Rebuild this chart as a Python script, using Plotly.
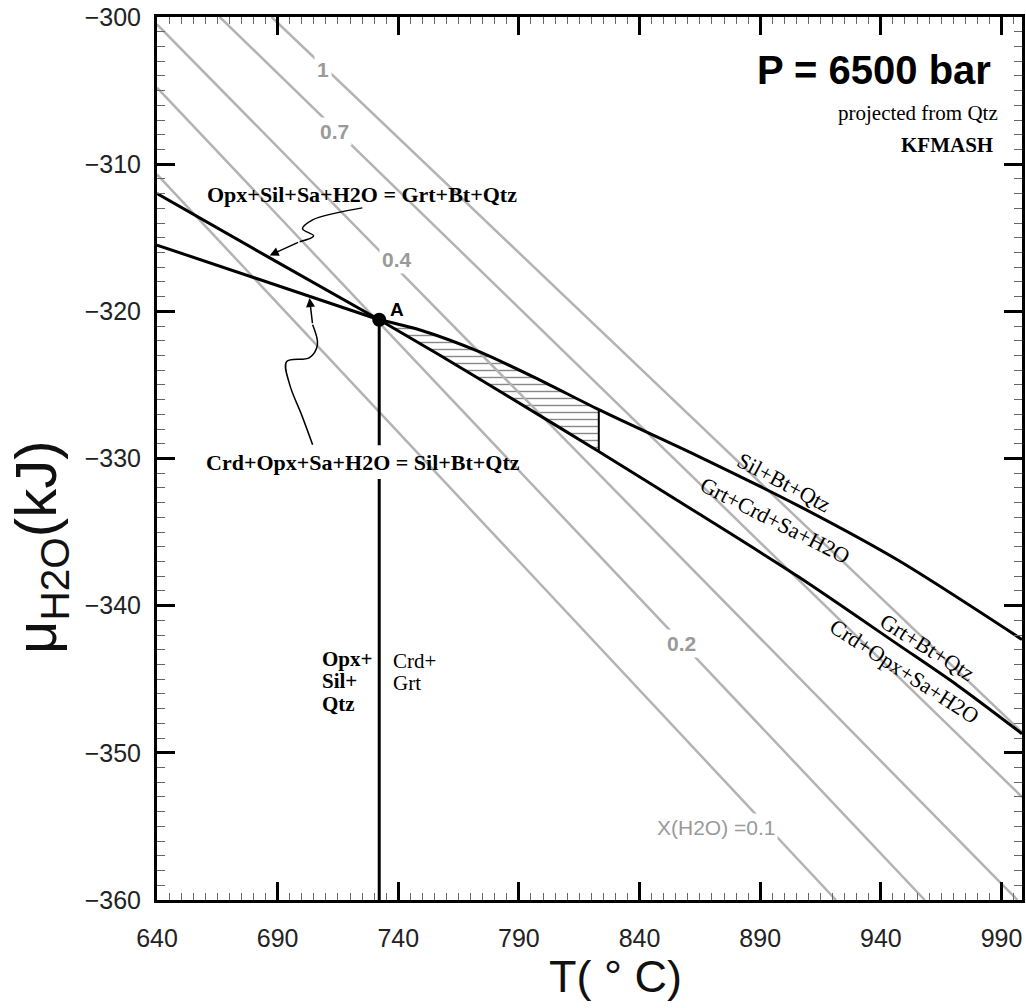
import plotly.graph_objects as go

# ---------------- data ----------------
# X(H2O) isopleths: straight lines between two end points (T in °C, mu in kJ)
iso_names = ["1", "0.7", "0.4", "0.2", "0.1"]
iso_T0 = [687.5, 666.0, 640.0, 640.0, 640.0]
iso_mu0 = [-300.0, -300.0, -300.5, -304.8, -310.7]
iso_T1 = [998.5, 998.5, 996.6, 958.2, 921.4]
iso_mu1 = [-348.6, -353.0, -360.0, -360.0, -360.0]
iso_label_text = ["1", "0.7", "0.4", "0.2", "X(H2O) =0.1"]
iso_label_T = [708.6, 713.6, 739.5, 857.4, 871.6]
iso_label_mu = [-303.6, -307.8, -316.5, -342.6, -355.06]

# invariant point A
A_T = [732.1]
A_mu = [-320.57]

# univariant curves
opx_sil_T = [640.0, 686.0, 732.1]              # Opx+Sil+Sa+H2O = Grt+Bt+Qtz
opx_sil_mu = [-312.0, -316.3, -320.57]
crd_opx_T = [640.0, 732.1]                     # Crd+Opx+Sa+H2O = Sil+Bt+Qtz
crd_opx_mu = [-315.5, -320.57]
sil_bt_T = [732.1, 748.7, 773.5, 798.3, 823.1, 864.4, 905.7, 947.0, 998.5]   # Sil+Bt+Qtz = Grt+Crd+Sa+H2O
sil_bt_mu = [-320.57, -321.25, -322.74, -324.64, -326.68, -329.85, -333.2, -336.9, -342.3]
grt_bt_T = [732.1, 756.9, 781.7, 823.1, 864.4, 905.7, 947.0, 971.8, 998.5]    # Grt+Bt+Qtz = Crd+Opx+Sa+H2O
grt_bt_mu = [-320.57, -322.95, -325.39, -329.53, -333.74, -338.02, -342.63, -345.42, -348.7]
vert_T = [732.1, 732.1, None, 732.1, 732.1]     # Opx+Sil+Qtz | Crd+Grt
vert_mu = [-320.57, -329.1, None, -331.4, -360.0]

# hatched field (between the two curves up to T = 823.1)
hatch_T_end = 823.1

# leader arrows (squiggly)
lead1_T = [725.1, 714.4, 704.5, 700.3, 704.9, 699.1, 686.7]
lead1_mu = [-312.97, -313.31, -313.78, -314.39, -314.87, -315.27, -316.2]
lead2_T = [704.5, 699.9, 695.0, 693.7, 703.2, 706.5, 704.5, 703.2]
lead2_mu = [-329.06, -327.02, -324.98, -323.42, -323.15, -322.27, -320.91, -319.1]

# ---------------- figure ----------------
SERIF = "Liberation Serif"
SANS = "Liberation Sans"
GRAY = "#b3b3b3"

fig = go.Figure()

# hatched area
up_T = [t for t in sil_bt_T if t <= hatch_T_end]
up_mu = sil_bt_mu[:len(up_T)]
lo_T = [t for t in grt_bt_T if t <= hatch_T_end]
lo_mu = grt_bt_mu[:len(lo_T)]
fig.add_trace(go.Scatter(
    x=up_T + lo_T[::-1], y=up_mu + lo_mu[::-1], mode="lines",
    line=dict(width=0), fill="toself", fillcolor="white",
    fillpattern=dict(shape="-", size=7, solidity=0.2, fgcolor="#111"),
    hoverinfo="skip", showlegend=False))

# isopleths
for i in range(len(iso_names)):
    fig.add_trace(go.Scatter(
        x=[iso_T0[i], iso_T1[i]], y=[iso_mu0[i], iso_mu1[i]], mode="lines",
        line=dict(color=GRAY, width=2.5), showlegend=False, hoverinfo="skip"))

# black curves
for tx, ty in [(opx_sil_T, opx_sil_mu), (crd_opx_T, crd_opx_mu),
               (sil_bt_T, sil_bt_mu), (grt_bt_T, grt_bt_mu)]:
    fig.add_trace(go.Scatter(x=tx, y=ty, mode="lines",
                             line=dict(color="black", width=3, shape="spline", smoothing=0.8),
                             showlegend=False, hoverinfo="skip"))
fig.add_trace(go.Scatter(x=vert_T, y=vert_mu, mode="lines",
                         line=dict(color="black", width=3), showlegend=False, hoverinfo="skip"))
# right edge of the hatched field
fig.add_trace(go.Scatter(x=[hatch_T_end, hatch_T_end], y=[up_mu[-1], lo_mu[-1]], mode="lines",
                         line=dict(color="black", width=2), showlegend=False, hoverinfo="skip"))

# leader lines
for tx, ty in [(lead1_T, lead1_mu), (lead2_T, lead2_mu)]:
    fig.add_trace(go.Scatter(x=tx[:-1], y=ty[:-1], mode="lines",
                             line=dict(color="black", width=1.5, shape="spline", smoothing=1.0),
                             showlegend=False, hoverinfo="skip"))
    fig.add_annotation(x=tx[-1], y=ty[-1], ax=tx[-2], ay=ty[-2], axref="x", ayref="y",
                       xref="x", yref="y", text="", showarrow=True, arrowhead=2,
                       arrowsize=1.2, arrowwidth=1.5, arrowcolor="black")

# point A
fig.add_trace(go.Scatter(x=A_T, y=A_mu, mode="markers",
                         marker=dict(color="black", size=14), showlegend=False, hoverinfo="skip"))

# isopleth labels (white box makes the gap in the line)
for i in range(len(iso_label_text)):
    fig.add_annotation(x=iso_label_T[i], y=iso_label_mu[i], text=iso_label_text[i],
                       showarrow=False, bgcolor="white", borderpad=2,
                       font=dict(family=SANS, size=21, color="#9a9a9a",
                                 weight="bold" if i < 4 else "normal"))

# texts
def txt(T, mu, s, size=22, family=SERIF, weight="bold", angle=0, xanchor="center", color="black"):
    fig.add_annotation(x=T, y=mu, text=s, showarrow=False, textangle=angle, xanchor=xanchor,
                       yanchor="middle",
                       font=dict(family=family, size=size, color=color, weight=weight))

txt(725.1, -312.08, "Opx+Sil+Sa+H2O = Grt+Bt+Qtz")
txt(725.5, -330.28, "Crd+Opx+Sa+H2O = Sil+Bt+Qtz")
txt(739.6, -319.9, "A", size=19, family=SANS)
txt(707.4, -343.65, "Opx+", size=21, xanchor="left")
txt(707.4, -345.15, "Sil+", size=21, xanchor="left")
txt(707.4, -346.71, "Qtz", size=21, xanchor="left")
txt(737.1, -343.79, "Crd+", size=21, xanchor="left", weight="normal")
txt(737.1, -345.28, "Grt", size=21, xanchor="left", weight="normal")
txt(899.9, -331.64, "Sil+Bt+Qtz", angle=28, weight="normal")
txt(896.2, -334.2, "Grt+Crd+Sa+H2O", angle=27, weight="normal")
txt(959.4, -342.84, "Grt+Bt+Qtz", angle=32, weight="normal")
txt(949.9, -344.47, "Crd+Opx+Sa+H2O", angle=33, weight="normal")
txt(986.3, -303.6, "P = 6500 bar", size=40, family=SANS, xanchor="right")
txt(989.2, -306.5, "projected from Qtz", size=21, weight="normal", xanchor="right")
txt(987.5, -308.7, "KFMASH", size=21, xanchor="right")

# axis titles
fig.add_annotation(xref="paper", yref="paper", x=0.530, y=-0.087, xanchor="center",
                   yanchor="middle", text="T( ° C)", showarrow=False,
                   font=dict(family=SANS, size=45, color="#111"))
fig.add_annotation(xref="paper", yref="paper", x=-0.135, y=0.40, xanchor="center",
                   yanchor="middle", text="μ<sub>H2O</sub>(kJ)", textangle=-90, showarrow=False,
                   font=dict(family=SANS, size=58, color="#111"))

axis_common = dict(showgrid=False, zeroline=False, showline=True, linecolor="black", linewidth=3,
                   mirror="ticks", ticks="inside", ticklen=18, tickwidth=3, tickcolor="black",
                   ticklabeloverflow="allow",
                   tickfont=dict(family=SANS, size=25, color="#222"))
fig.update_xaxes(range=[640, 998.5], tick0=640, dtick=50, ticklabelstandoff=14,
                 minor=dict(ticks="inside", dtick=5, ticklen=7, tickwidth=1, tickcolor="#666"),
                 **axis_common)
fig.update_yaxes(range=[-360, -300], tick0=-360, dtick=10, ticklabelstandoff=8,
                 minor=dict(ticks="inside", dtick=1, ticklen=8, tickwidth=1, tickcolor="#666"),
                 **axis_common)

fig.update_layout(width=1026, height=1008, margin=dict(l=157, r=1, t=17, b=108),
                  plot_bgcolor="white", paper_bgcolor="white", showlegend=False)

fig.write_html("out.html", config={"displayModeBar": False},
               post_script="document.body.style.margin='0';")
